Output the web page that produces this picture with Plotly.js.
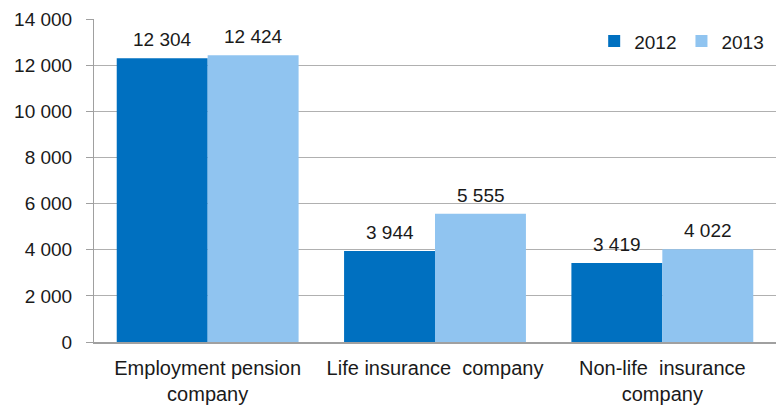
<!DOCTYPE html>
<html><head><meta charset="utf-8">
<script src="https://cdn.plot.ly/plotly-3.0.1.min.js"></script>
<style>body{margin:0;background:#fff}#c{width:777px;height:410px}</style>
</head><body><div id="c"></div>
<script>
const categories = ["Employment pension<br>company", "Life insurance  company", "Non-life  insurance<br>company"];
const values2012 = [12304, 3944, 3419];
const values2013 = [12424, 5555, 4022];
const tickValues = [0, 2000, 4000, 6000, 8000, 10000, 12000, 14000];

const FAM = "Liberation Sans, Arial, sans-serif";
const numFont = {family: FAM, size: 19, color: "#1a1a1a"};
const catFont = {family: FAM, size: 20, color: "#1a1a1a"};
const fmt = v => String(v).replace(/\B(?=(\d{3})+(?!\d))/g, " ");

const traces = [
  {type: "bar", name: "2012", x: categories, y: values2012, marker: {color: "#0070C0"}},
  {type: "bar", name: "2013", x: categories, y: values2013, marker: {color: "#90C4F0"}}
];
const annotations = [];
[[values2012, -45.5], [values2013, 45.5]].forEach(([vals, dx]) => {
  vals.forEach((v, i) => annotations.push({
    x: categories[i], y: v, xref: "x", yref: "y", text: fmt(v), showarrow: false,
    xshift: dx, yshift: 6, yanchor: "bottom", font: numFont
  }));
});
const layout = {
  width: 777, height: 410,
  margin: {l: 94, r: 1, t: 19, b: 68},
  separators: ". ",
  font: numFont,
  paper_bgcolor: "#fff", plot_bgcolor: "#fff",
  barmode: "group", bargap: 0.2, bargroupgap: 0,
  showlegend: true,
  legend: {orientation: "h", x: 0.99, xanchor: "right", y: 0.99, yanchor: "top",
           font: numFont, itemwidth: 30, traceorder: "normal", bgcolor: "rgba(0,0,0,0)"},
  annotations: annotations,
  xaxis: {type: "category", showline: true, linecolor: "#a0a0a0", linewidth: 1.5,
          ticks: "", tickfont: catFont, ticklabelstandoff: 7, fixedrange: true},
  yaxis: {range: [0, 14000], tickvals: tickValues, tickformat: ",", showgrid: true,
          gridcolor: "#b0b0b0", gridwidth: 1, showline: true, linecolor: "#a0a0a0",
          ticks: "outside", ticklen: 7, tickcolor: "#a0a0a0", tickfont: numFont,
          ticklabelstandoff: 10, zeroline: false, fixedrange: true}
};
Plotly.newPlot("c", traces, layout, {displayModeBar: false, staticPlot: true});
</script></body></html>
